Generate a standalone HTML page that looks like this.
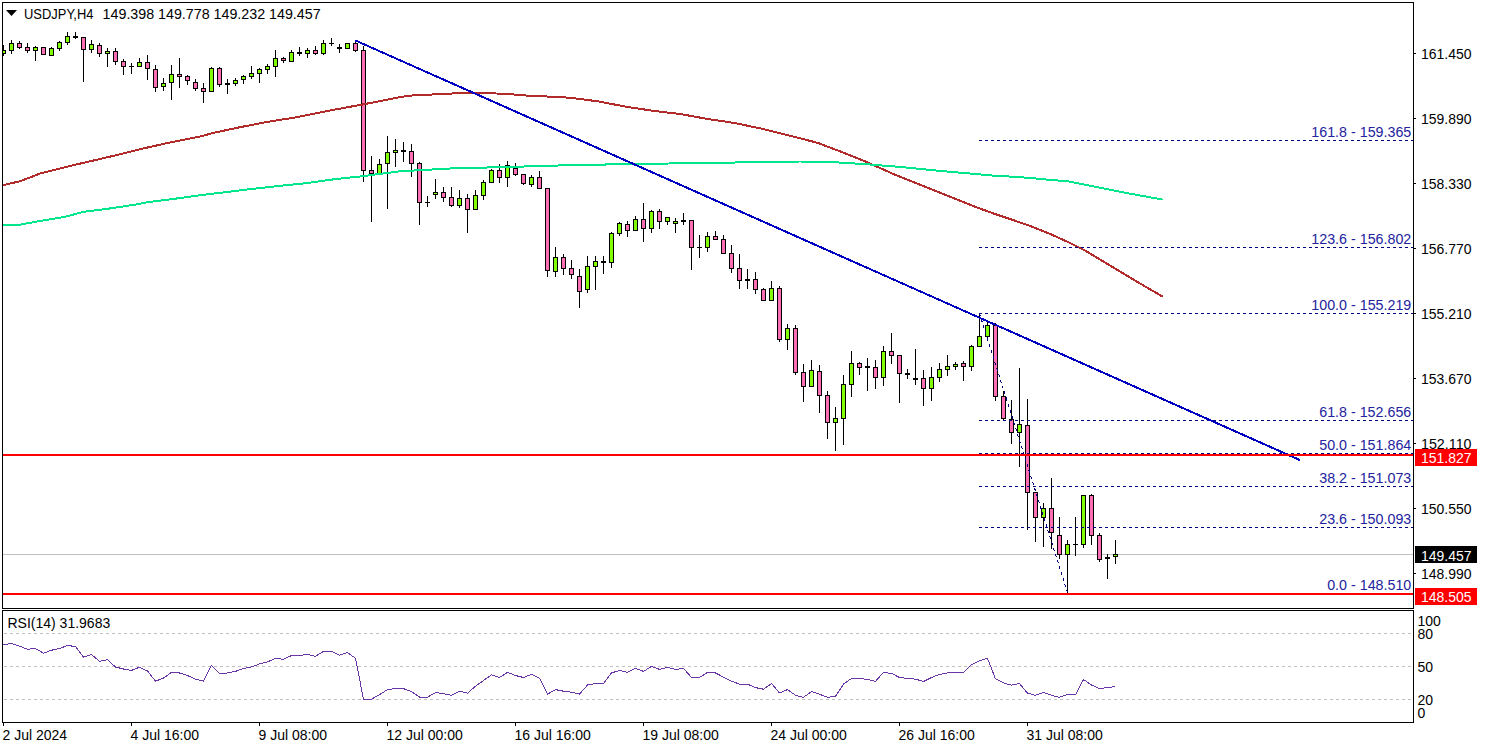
<!DOCTYPE html>
<html><head><meta charset="utf-8"><style>
html,body{margin:0;padding:0;background:#fff;overflow:hidden;}
svg{display:block;}
</style></head><body>
<svg width="1485" height="749" viewBox="0 0 1485 749">
<defs><clipPath id="chartclip"><rect x="3" y="3" width="1410" height="605"/></clipPath><clipPath id="rsiclip"><rect x="3" y="611" width="1410" height="111"/></clipPath></defs>
<rect width="1485" height="749" fill="#fff"/>
<g shape-rendering="crispEdges" fill="#000">
<rect x="2" y="2" width="1412" height="1"/><rect x="2" y="608" width="1412" height="1"/>
<rect x="2" y="2" width="1" height="607"/><rect x="1413" y="2" width="1" height="607"/>
<rect x="2" y="610" width="1412" height="1"/><rect x="2" y="722" width="1412" height="1"/>
<rect x="2" y="610" width="1" height="113"/><rect x="1413" y="610" width="1" height="113"/>
</g>
<g shape-rendering="crispEdges" fill="#000">
<rect x="1414" y="53" width="2" height="1"/>
<rect x="1414" y="118" width="2" height="1"/>
<rect x="1414" y="183" width="2" height="1"/>
<rect x="1414" y="248" width="2" height="1"/>
<rect x="1414" y="313" width="2" height="1"/>
<rect x="1414" y="378" width="2" height="1"/>
<rect x="1414" y="443" width="2" height="1"/>
<rect x="1414" y="508" width="2" height="1"/>
<rect x="1414" y="573" width="2" height="1"/>
</g>
<g font-family="Liberation Sans, sans-serif" font-size="14" fill="#000">
<text x="1421" y="58.5" textLength="50.5" lengthAdjust="spacingAndGlyphs">161.450</text>
<text x="1421" y="123.5" textLength="50.5" lengthAdjust="spacingAndGlyphs">159.890</text>
<text x="1421" y="188.5" textLength="50.5" lengthAdjust="spacingAndGlyphs">158.330</text>
<text x="1421" y="253.5" textLength="50.5" lengthAdjust="spacingAndGlyphs">156.770</text>
<text x="1421" y="318.5" textLength="50.5" lengthAdjust="spacingAndGlyphs">155.210</text>
<text x="1421" y="383.5" textLength="50.5" lengthAdjust="spacingAndGlyphs">153.670</text>
<text x="1421" y="448.5" textLength="50.5" lengthAdjust="spacingAndGlyphs">152.110</text>
<text x="1421" y="513.5" textLength="50.5" lengthAdjust="spacingAndGlyphs">150.550</text>
<text x="1421" y="578.5" textLength="50.5" lengthAdjust="spacingAndGlyphs">148.990</text>
</g>
<g font-family="Liberation Sans, sans-serif" font-size="14" fill="#000">
<text x="1417.5" y="626">100</text>
<text x="1417.5" y="639">80</text>
<text x="1417.5" y="672">50</text>
<text x="1417.5" y="705">20</text>
<text x="1417.5" y="718">0</text>
</g>
<g shape-rendering="crispEdges" fill="#000">
<rect x="3" y="723" width="1" height="3"/>
<rect x="131" y="723" width="1" height="3"/>
<rect x="259" y="723" width="1" height="3"/>
<rect x="387" y="723" width="1" height="3"/>
<rect x="515" y="723" width="1" height="3"/>
<rect x="643" y="723" width="1" height="3"/>
<rect x="771" y="723" width="1" height="3"/>
<rect x="899" y="723" width="1" height="3"/>
<rect x="1027" y="723" width="1" height="3"/>
</g>
<g font-family="Liberation Sans, sans-serif" font-size="14" fill="#000">
<text x="2.5" y="740">2 Jul 2024</text>
<text x="130.5" y="740">4 Jul 16:00</text>
<text x="258.5" y="740">9 Jul 08:00</text>
<text x="386.5" y="740">12 Jul 00:00</text>
<text x="514.5" y="740">16 Jul 16:00</text>
<text x="642.5" y="740">19 Jul 08:00</text>
<text x="770.5" y="740">24 Jul 00:00</text>
<text x="898.5" y="740">26 Jul 16:00</text>
<text x="1026.5" y="740">31 Jul 08:00</text>
</g>
<g shape-rendering="crispEdges" stroke="#C0C0C0" stroke-width="1" stroke-dasharray="3,3">
<line x1="4" y1="633.5" x2="1412" y2="633.5"/>
<line x1="4" y1="666.5" x2="1412" y2="666.5"/>
<line x1="4" y1="699.5" x2="1412" y2="699.5"/>
</g>
<rect x="3" y="554" width="1410" height="1" fill="#C0C0C0" shape-rendering="crispEdges"/>
<g shape-rendering="crispEdges" clip-path="url(#chartclip)">
<rect x="3" y="45" width="1" height="11" fill="#000"/>
<rect x="1" y="50" width="5" height="4" fill="#000"/>
<rect x="2" y="51" width="3" height="2" fill="#7FFF00"/>
<rect x="11" y="40" width="1" height="14" fill="#000"/>
<rect x="9" y="43" width="5" height="8" fill="#000"/>
<rect x="10" y="44" width="3" height="6" fill="#7FFF00"/>
<rect x="19" y="41" width="1" height="8" fill="#000"/>
<rect x="17" y="43" width="5" height="5" fill="#000"/>
<rect x="18" y="44" width="3" height="3" fill="#FF6EB4"/>
<rect x="27" y="43" width="1" height="10" fill="#000"/>
<rect x="25" y="47" width="5" height="4" fill="#000"/>
<rect x="26" y="48" width="3" height="2" fill="#FF6EB4"/>
<rect x="35" y="46" width="1" height="15" fill="#000"/>
<rect x="33" y="47" width="5" height="4" fill="#000"/>
<rect x="34" y="48" width="3" height="2" fill="#7FFF00"/>
<rect x="43" y="47" width="1" height="8" fill="#000"/>
<rect x="41" y="47" width="5" height="8" fill="#000"/>
<rect x="42" y="48" width="3" height="6" fill="#FF6EB4"/>
<rect x="51" y="47" width="1" height="9" fill="#000"/>
<rect x="49" y="48" width="5" height="8" fill="#000"/>
<rect x="50" y="49" width="3" height="6" fill="#7FFF00"/>
<rect x="59" y="41" width="1" height="10" fill="#000"/>
<rect x="57" y="42" width="5" height="7" fill="#000"/>
<rect x="58" y="43" width="3" height="5" fill="#7FFF00"/>
<rect x="67" y="32" width="1" height="13" fill="#000"/>
<rect x="65" y="36" width="5" height="7" fill="#000"/>
<rect x="66" y="37" width="3" height="5" fill="#7FFF00"/>
<rect x="75" y="32" width="1" height="7" fill="#000"/>
<rect x="73" y="36" width="5" height="2" fill="#000"/>
<rect x="83" y="37" width="1" height="45" fill="#000"/>
<rect x="81" y="37" width="5" height="13" fill="#000"/>
<rect x="82" y="38" width="3" height="11" fill="#FF6EB4"/>
<rect x="91" y="40" width="1" height="13" fill="#000"/>
<rect x="89" y="44" width="5" height="6" fill="#000"/>
<rect x="90" y="45" width="3" height="4" fill="#7FFF00"/>
<rect x="99" y="43" width="1" height="14" fill="#000"/>
<rect x="97" y="45" width="5" height="9" fill="#000"/>
<rect x="98" y="46" width="3" height="7" fill="#FF6EB4"/>
<rect x="107" y="48" width="1" height="19" fill="#000"/>
<rect x="105" y="51" width="5" height="3" fill="#000"/>
<rect x="106" y="52" width="3" height="1" fill="#7FFF00"/>
<rect x="115" y="48" width="1" height="17" fill="#000"/>
<rect x="113" y="51" width="5" height="11" fill="#000"/>
<rect x="114" y="52" width="3" height="9" fill="#FF6EB4"/>
<rect x="123" y="59" width="1" height="16" fill="#000"/>
<rect x="121" y="61" width="5" height="6" fill="#000"/>
<rect x="122" y="62" width="3" height="4" fill="#FF6EB4"/>
<rect x="131" y="63" width="1" height="11" fill="#000"/>
<rect x="129" y="66" width="5" height="1" fill="#000"/>
<rect x="139" y="58" width="1" height="9" fill="#000"/>
<rect x="137" y="62" width="5" height="5" fill="#000"/>
<rect x="138" y="63" width="3" height="3" fill="#7FFF00"/>
<rect x="147" y="55" width="1" height="25" fill="#000"/>
<rect x="145" y="62" width="5" height="7" fill="#000"/>
<rect x="146" y="63" width="3" height="5" fill="#FF6EB4"/>
<rect x="155" y="65" width="1" height="27" fill="#000"/>
<rect x="153" y="69" width="5" height="19" fill="#000"/>
<rect x="154" y="70" width="3" height="17" fill="#FF6EB4"/>
<rect x="163" y="78" width="1" height="13" fill="#000"/>
<rect x="161" y="83" width="5" height="4" fill="#000"/>
<rect x="162" y="84" width="3" height="2" fill="#7FFF00"/>
<rect x="171" y="65" width="1" height="35" fill="#000"/>
<rect x="169" y="74" width="5" height="9" fill="#000"/>
<rect x="170" y="75" width="3" height="7" fill="#7FFF00"/>
<rect x="179" y="58" width="1" height="30" fill="#000"/>
<rect x="177" y="74" width="5" height="3" fill="#000"/>
<rect x="178" y="75" width="3" height="1" fill="#FF6EB4"/>
<rect x="187" y="75" width="1" height="10" fill="#000"/>
<rect x="185" y="76" width="5" height="5" fill="#000"/>
<rect x="186" y="77" width="3" height="3" fill="#FF6EB4"/>
<rect x="195" y="79" width="1" height="12" fill="#000"/>
<rect x="193" y="82" width="5" height="7" fill="#000"/>
<rect x="194" y="83" width="3" height="5" fill="#FF6EB4"/>
<rect x="203" y="83" width="1" height="20" fill="#000"/>
<rect x="201" y="88" width="5" height="4" fill="#000"/>
<rect x="202" y="89" width="3" height="2" fill="#FF6EB4"/>
<rect x="211" y="67" width="1" height="25" fill="#000"/>
<rect x="209" y="68" width="5" height="24" fill="#000"/>
<rect x="210" y="69" width="3" height="22" fill="#7FFF00"/>
<rect x="219" y="67" width="1" height="20" fill="#000"/>
<rect x="217" y="68" width="5" height="17" fill="#000"/>
<rect x="218" y="69" width="3" height="15" fill="#FF6EB4"/>
<rect x="227" y="79" width="1" height="15" fill="#000"/>
<rect x="225" y="83" width="5" height="2" fill="#000"/>
<rect x="235" y="78" width="1" height="8" fill="#000"/>
<rect x="233" y="80" width="5" height="4" fill="#000"/>
<rect x="234" y="81" width="3" height="2" fill="#7FFF00"/>
<rect x="243" y="75" width="1" height="9" fill="#000"/>
<rect x="241" y="76" width="5" height="4" fill="#000"/>
<rect x="242" y="77" width="3" height="2" fill="#7FFF00"/>
<rect x="251" y="66" width="1" height="13" fill="#000"/>
<rect x="249" y="73" width="5" height="4" fill="#000"/>
<rect x="250" y="74" width="3" height="2" fill="#7FFF00"/>
<rect x="259" y="68" width="1" height="15" fill="#000"/>
<rect x="257" y="69" width="5" height="5" fill="#000"/>
<rect x="258" y="70" width="3" height="3" fill="#7FFF00"/>
<rect x="267" y="64" width="1" height="10" fill="#000"/>
<rect x="265" y="66" width="5" height="4" fill="#000"/>
<rect x="266" y="67" width="3" height="2" fill="#7FFF00"/>
<rect x="275" y="50" width="1" height="27" fill="#000"/>
<rect x="273" y="58" width="5" height="9" fill="#000"/>
<rect x="274" y="59" width="3" height="7" fill="#7FFF00"/>
<rect x="283" y="57" width="1" height="6" fill="#000"/>
<rect x="281" y="58" width="5" height="3" fill="#000"/>
<rect x="282" y="59" width="3" height="1" fill="#FF6EB4"/>
<rect x="291" y="50" width="1" height="12" fill="#000"/>
<rect x="289" y="52" width="5" height="10" fill="#000"/>
<rect x="290" y="53" width="3" height="8" fill="#7FFF00"/>
<rect x="299" y="47" width="1" height="9" fill="#000"/>
<rect x="297" y="52" width="5" height="2" fill="#000"/>
<rect x="307" y="48" width="1" height="10" fill="#000"/>
<rect x="305" y="50" width="5" height="4" fill="#000"/>
<rect x="306" y="51" width="3" height="2" fill="#7FFF00"/>
<rect x="315" y="46" width="1" height="9" fill="#000"/>
<rect x="313" y="50" width="5" height="4" fill="#000"/>
<rect x="314" y="51" width="3" height="2" fill="#FF6EB4"/>
<rect x="323" y="40" width="1" height="15" fill="#000"/>
<rect x="321" y="43" width="5" height="11" fill="#000"/>
<rect x="322" y="44" width="3" height="9" fill="#7FFF00"/>
<rect x="331" y="38" width="1" height="8" fill="#000"/>
<rect x="329" y="43" width="5" height="1" fill="#000"/>
<rect x="339" y="44" width="1" height="9" fill="#000"/>
<rect x="337" y="47" width="5" height="2" fill="#000"/>
<rect x="347" y="43" width="1" height="6" fill="#000"/>
<rect x="345" y="43" width="5" height="6" fill="#000"/>
<rect x="346" y="44" width="3" height="4" fill="#7FFF00"/>
<rect x="355" y="40" width="1" height="12" fill="#000"/>
<rect x="353" y="43" width="5" height="8" fill="#000"/>
<rect x="354" y="44" width="3" height="6" fill="#FF6EB4"/>
<rect x="363" y="46" width="1" height="136" fill="#000"/>
<rect x="361" y="50" width="5" height="121" fill="#000"/>
<rect x="362" y="51" width="3" height="119" fill="#FF6EB4"/>
<rect x="371" y="156" width="1" height="66" fill="#000"/>
<rect x="369" y="170" width="5" height="4" fill="#000"/>
<rect x="370" y="171" width="3" height="2" fill="#FF6EB4"/>
<rect x="379" y="159" width="1" height="15" fill="#000"/>
<rect x="377" y="164" width="5" height="10" fill="#000"/>
<rect x="378" y="165" width="3" height="8" fill="#7FFF00"/>
<rect x="387" y="136" width="1" height="73" fill="#000"/>
<rect x="385" y="152" width="5" height="12" fill="#000"/>
<rect x="386" y="153" width="3" height="10" fill="#7FFF00"/>
<rect x="395" y="139" width="1" height="28" fill="#000"/>
<rect x="393" y="150" width="5" height="3" fill="#000"/>
<rect x="394" y="151" width="3" height="1" fill="#7FFF00"/>
<rect x="403" y="142" width="1" height="20" fill="#000"/>
<rect x="401" y="150" width="5" height="2" fill="#000"/>
<rect x="411" y="144" width="1" height="33" fill="#000"/>
<rect x="409" y="151" width="5" height="13" fill="#000"/>
<rect x="410" y="152" width="3" height="11" fill="#FF6EB4"/>
<rect x="419" y="162" width="1" height="63" fill="#000"/>
<rect x="417" y="163" width="5" height="40" fill="#000"/>
<rect x="418" y="164" width="3" height="38" fill="#FF6EB4"/>
<rect x="427" y="196" width="1" height="11" fill="#000"/>
<rect x="425" y="202" width="5" height="1" fill="#000"/>
<rect x="435" y="179" width="1" height="20" fill="#000"/>
<rect x="433" y="192" width="5" height="3" fill="#000"/>
<rect x="434" y="193" width="3" height="1" fill="#7FFF00"/>
<rect x="443" y="187" width="1" height="15" fill="#000"/>
<rect x="441" y="192" width="5" height="6" fill="#000"/>
<rect x="442" y="193" width="3" height="4" fill="#FF6EB4"/>
<rect x="451" y="187" width="1" height="20" fill="#000"/>
<rect x="449" y="197" width="5" height="9" fill="#000"/>
<rect x="450" y="198" width="3" height="7" fill="#FF6EB4"/>
<rect x="459" y="190" width="1" height="18" fill="#000"/>
<rect x="457" y="198" width="5" height="8" fill="#000"/>
<rect x="458" y="199" width="3" height="6" fill="#7FFF00"/>
<rect x="467" y="194" width="1" height="39" fill="#000"/>
<rect x="465" y="198" width="5" height="12" fill="#000"/>
<rect x="466" y="199" width="3" height="10" fill="#FF6EB4"/>
<rect x="475" y="190" width="1" height="20" fill="#000"/>
<rect x="473" y="195" width="5" height="15" fill="#000"/>
<rect x="474" y="196" width="3" height="13" fill="#7FFF00"/>
<rect x="483" y="180" width="1" height="20" fill="#000"/>
<rect x="481" y="182" width="5" height="14" fill="#000"/>
<rect x="482" y="183" width="3" height="12" fill="#7FFF00"/>
<rect x="491" y="169" width="1" height="14" fill="#000"/>
<rect x="489" y="170" width="5" height="13" fill="#000"/>
<rect x="490" y="171" width="3" height="11" fill="#7FFF00"/>
<rect x="499" y="164" width="1" height="19" fill="#000"/>
<rect x="497" y="170" width="5" height="8" fill="#000"/>
<rect x="498" y="171" width="3" height="6" fill="#FF6EB4"/>
<rect x="507" y="161" width="1" height="26" fill="#000"/>
<rect x="505" y="165" width="5" height="13" fill="#000"/>
<rect x="506" y="166" width="3" height="11" fill="#7FFF00"/>
<rect x="515" y="163" width="1" height="13" fill="#000"/>
<rect x="513" y="168" width="5" height="7" fill="#000"/>
<rect x="514" y="169" width="3" height="5" fill="#FF6EB4"/>
<rect x="523" y="174" width="1" height="11" fill="#000"/>
<rect x="521" y="174" width="5" height="10" fill="#000"/>
<rect x="522" y="175" width="3" height="8" fill="#FF6EB4"/>
<rect x="531" y="175" width="1" height="12" fill="#000"/>
<rect x="529" y="177" width="5" height="8" fill="#000"/>
<rect x="530" y="178" width="3" height="6" fill="#7FFF00"/>
<rect x="539" y="171" width="1" height="18" fill="#000"/>
<rect x="537" y="177" width="5" height="12" fill="#000"/>
<rect x="538" y="178" width="3" height="10" fill="#FF6EB4"/>
<rect x="547" y="188" width="1" height="89" fill="#000"/>
<rect x="545" y="188" width="5" height="83" fill="#000"/>
<rect x="546" y="189" width="3" height="81" fill="#FF6EB4"/>
<rect x="555" y="247" width="1" height="30" fill="#000"/>
<rect x="553" y="257" width="5" height="15" fill="#000"/>
<rect x="554" y="258" width="3" height="13" fill="#7FFF00"/>
<rect x="563" y="254" width="1" height="21" fill="#000"/>
<rect x="561" y="257" width="5" height="12" fill="#000"/>
<rect x="562" y="258" width="3" height="10" fill="#FF6EB4"/>
<rect x="571" y="260" width="1" height="19" fill="#000"/>
<rect x="569" y="268" width="5" height="7" fill="#000"/>
<rect x="570" y="269" width="3" height="5" fill="#FF6EB4"/>
<rect x="579" y="269" width="1" height="39" fill="#000"/>
<rect x="577" y="276" width="5" height="16" fill="#000"/>
<rect x="578" y="277" width="3" height="14" fill="#FF6EB4"/>
<rect x="587" y="256" width="1" height="37" fill="#000"/>
<rect x="585" y="266" width="5" height="24" fill="#000"/>
<rect x="586" y="267" width="3" height="22" fill="#7FFF00"/>
<rect x="595" y="256" width="1" height="34" fill="#000"/>
<rect x="593" y="261" width="5" height="6" fill="#000"/>
<rect x="594" y="262" width="3" height="4" fill="#7FFF00"/>
<rect x="603" y="256" width="1" height="18" fill="#000"/>
<rect x="601" y="261" width="5" height="2" fill="#000"/>
<rect x="611" y="232" width="1" height="36" fill="#000"/>
<rect x="609" y="233" width="5" height="30" fill="#000"/>
<rect x="610" y="234" width="3" height="28" fill="#7FFF00"/>
<rect x="619" y="222" width="1" height="14" fill="#000"/>
<rect x="617" y="223" width="5" height="11" fill="#000"/>
<rect x="618" y="224" width="3" height="9" fill="#7FFF00"/>
<rect x="627" y="221" width="1" height="16" fill="#000"/>
<rect x="625" y="224" width="5" height="7" fill="#000"/>
<rect x="626" y="225" width="3" height="5" fill="#FF6EB4"/>
<rect x="635" y="216" width="1" height="15" fill="#000"/>
<rect x="633" y="219" width="5" height="12" fill="#000"/>
<rect x="634" y="220" width="3" height="10" fill="#7FFF00"/>
<rect x="643" y="203" width="1" height="39" fill="#000"/>
<rect x="641" y="219" width="5" height="10" fill="#000"/>
<rect x="642" y="220" width="3" height="8" fill="#FF6EB4"/>
<rect x="651" y="210" width="1" height="23" fill="#000"/>
<rect x="649" y="211" width="5" height="18" fill="#000"/>
<rect x="650" y="212" width="3" height="16" fill="#7FFF00"/>
<rect x="659" y="209" width="1" height="20" fill="#000"/>
<rect x="657" y="211" width="5" height="11" fill="#000"/>
<rect x="658" y="212" width="3" height="9" fill="#FF6EB4"/>
<rect x="667" y="217" width="1" height="8" fill="#000"/>
<rect x="665" y="217" width="5" height="5" fill="#000"/>
<rect x="666" y="218" width="3" height="3" fill="#7FFF00"/>
<rect x="675" y="218" width="1" height="15" fill="#000"/>
<rect x="673" y="221" width="5" height="3" fill="#000"/>
<rect x="674" y="222" width="3" height="1" fill="#7FFF00"/>
<rect x="683" y="213" width="1" height="12" fill="#000"/>
<rect x="681" y="220" width="5" height="2" fill="#000"/>
<rect x="691" y="220" width="1" height="50" fill="#000"/>
<rect x="689" y="220" width="5" height="28" fill="#000"/>
<rect x="690" y="221" width="3" height="26" fill="#FF6EB4"/>
<rect x="699" y="235" width="1" height="23" fill="#000"/>
<rect x="697" y="247" width="5" height="1" fill="#000"/>
<rect x="707" y="232" width="1" height="20" fill="#000"/>
<rect x="705" y="236" width="5" height="12" fill="#000"/>
<rect x="706" y="237" width="3" height="10" fill="#7FFF00"/>
<rect x="715" y="231" width="1" height="9" fill="#000"/>
<rect x="713" y="236" width="5" height="4" fill="#000"/>
<rect x="714" y="237" width="3" height="2" fill="#FF6EB4"/>
<rect x="723" y="235" width="1" height="19" fill="#000"/>
<rect x="721" y="239" width="5" height="15" fill="#000"/>
<rect x="722" y="240" width="3" height="13" fill="#FF6EB4"/>
<rect x="731" y="245" width="1" height="28" fill="#000"/>
<rect x="729" y="253" width="5" height="16" fill="#000"/>
<rect x="730" y="254" width="3" height="14" fill="#FF6EB4"/>
<rect x="739" y="254" width="1" height="35" fill="#000"/>
<rect x="737" y="268" width="5" height="13" fill="#000"/>
<rect x="738" y="269" width="3" height="11" fill="#FF6EB4"/>
<rect x="747" y="269" width="1" height="20" fill="#000"/>
<rect x="745" y="279" width="5" height="2" fill="#000"/>
<rect x="755" y="272" width="1" height="22" fill="#000"/>
<rect x="753" y="279" width="5" height="11" fill="#000"/>
<rect x="754" y="280" width="3" height="9" fill="#FF6EB4"/>
<rect x="763" y="288" width="1" height="13" fill="#000"/>
<rect x="761" y="289" width="5" height="12" fill="#000"/>
<rect x="762" y="290" width="3" height="10" fill="#FF6EB4"/>
<rect x="771" y="281" width="1" height="20" fill="#000"/>
<rect x="769" y="288" width="5" height="13" fill="#000"/>
<rect x="770" y="289" width="3" height="11" fill="#7FFF00"/>
<rect x="779" y="286" width="1" height="56" fill="#000"/>
<rect x="777" y="288" width="5" height="52" fill="#000"/>
<rect x="778" y="289" width="3" height="50" fill="#FF6EB4"/>
<rect x="787" y="324" width="1" height="26" fill="#000"/>
<rect x="785" y="328" width="5" height="12" fill="#000"/>
<rect x="786" y="329" width="3" height="10" fill="#7FFF00"/>
<rect x="795" y="325" width="1" height="50" fill="#000"/>
<rect x="793" y="328" width="5" height="45" fill="#000"/>
<rect x="794" y="329" width="3" height="43" fill="#FF6EB4"/>
<rect x="803" y="364" width="1" height="38" fill="#000"/>
<rect x="801" y="372" width="5" height="15" fill="#000"/>
<rect x="802" y="373" width="3" height="13" fill="#FF6EB4"/>
<rect x="811" y="360" width="1" height="27" fill="#000"/>
<rect x="809" y="370" width="5" height="17" fill="#000"/>
<rect x="810" y="371" width="3" height="15" fill="#7FFF00"/>
<rect x="819" y="365" width="1" height="48" fill="#000"/>
<rect x="817" y="371" width="5" height="25" fill="#000"/>
<rect x="818" y="372" width="3" height="23" fill="#FF6EB4"/>
<rect x="827" y="391" width="1" height="48" fill="#000"/>
<rect x="825" y="395" width="5" height="28" fill="#000"/>
<rect x="826" y="396" width="3" height="26" fill="#FF6EB4"/>
<rect x="835" y="407" width="1" height="44" fill="#000"/>
<rect x="833" y="418" width="5" height="5" fill="#000"/>
<rect x="834" y="419" width="3" height="3" fill="#7FFF00"/>
<rect x="843" y="375" width="1" height="70" fill="#000"/>
<rect x="841" y="384" width="5" height="35" fill="#000"/>
<rect x="842" y="385" width="3" height="33" fill="#7FFF00"/>
<rect x="851" y="351" width="1" height="46" fill="#000"/>
<rect x="849" y="363" width="5" height="22" fill="#000"/>
<rect x="850" y="364" width="3" height="20" fill="#7FFF00"/>
<rect x="859" y="362" width="1" height="13" fill="#000"/>
<rect x="857" y="363" width="5" height="5" fill="#000"/>
<rect x="858" y="364" width="3" height="3" fill="#FF6EB4"/>
<rect x="867" y="358" width="1" height="33" fill="#000"/>
<rect x="865" y="366" width="5" height="2" fill="#000"/>
<rect x="875" y="360" width="1" height="29" fill="#000"/>
<rect x="873" y="367" width="5" height="11" fill="#000"/>
<rect x="874" y="368" width="3" height="9" fill="#FF6EB4"/>
<rect x="883" y="346" width="1" height="40" fill="#000"/>
<rect x="881" y="351" width="5" height="27" fill="#000"/>
<rect x="882" y="352" width="3" height="25" fill="#7FFF00"/>
<rect x="891" y="333" width="1" height="31" fill="#000"/>
<rect x="889" y="351" width="5" height="5" fill="#000"/>
<rect x="890" y="352" width="3" height="3" fill="#FF6EB4"/>
<rect x="899" y="355" width="1" height="48" fill="#000"/>
<rect x="897" y="355" width="5" height="19" fill="#000"/>
<rect x="898" y="356" width="3" height="17" fill="#FF6EB4"/>
<rect x="907" y="369" width="1" height="10" fill="#000"/>
<rect x="905" y="373" width="5" height="2" fill="#000"/>
<rect x="915" y="349" width="1" height="36" fill="#000"/>
<rect x="913" y="378" width="5" height="2" fill="#000"/>
<rect x="923" y="370" width="1" height="36" fill="#000"/>
<rect x="921" y="378" width="5" height="11" fill="#000"/>
<rect x="922" y="379" width="3" height="9" fill="#FF6EB4"/>
<rect x="931" y="367" width="1" height="34" fill="#000"/>
<rect x="929" y="377" width="5" height="12" fill="#000"/>
<rect x="930" y="378" width="3" height="10" fill="#7FFF00"/>
<rect x="939" y="363" width="1" height="19" fill="#000"/>
<rect x="937" y="369" width="5" height="9" fill="#000"/>
<rect x="938" y="370" width="3" height="7" fill="#7FFF00"/>
<rect x="947" y="355" width="1" height="21" fill="#000"/>
<rect x="945" y="366" width="5" height="4" fill="#000"/>
<rect x="946" y="367" width="3" height="2" fill="#7FFF00"/>
<rect x="955" y="362" width="1" height="8" fill="#000"/>
<rect x="953" y="364" width="5" height="3" fill="#000"/>
<rect x="954" y="365" width="3" height="1" fill="#7FFF00"/>
<rect x="963" y="361" width="1" height="20" fill="#000"/>
<rect x="961" y="363" width="5" height="4" fill="#000"/>
<rect x="962" y="364" width="3" height="2" fill="#FF6EB4"/>
<rect x="971" y="345" width="1" height="26" fill="#000"/>
<rect x="969" y="346" width="5" height="21" fill="#000"/>
<rect x="970" y="347" width="3" height="19" fill="#7FFF00"/>
<rect x="979" y="313" width="1" height="34" fill="#000"/>
<rect x="977" y="336" width="5" height="11" fill="#000"/>
<rect x="978" y="337" width="3" height="9" fill="#7FFF00"/>
<rect x="987" y="321" width="1" height="18" fill="#000"/>
<rect x="985" y="325" width="5" height="12" fill="#000"/>
<rect x="986" y="326" width="3" height="10" fill="#7FFF00"/>
<rect x="995" y="323" width="1" height="78" fill="#000"/>
<rect x="993" y="325" width="5" height="72" fill="#000"/>
<rect x="994" y="326" width="3" height="70" fill="#FF6EB4"/>
<rect x="1003" y="391" width="1" height="30" fill="#000"/>
<rect x="1001" y="396" width="5" height="23" fill="#000"/>
<rect x="1002" y="397" width="3" height="21" fill="#FF6EB4"/>
<rect x="1011" y="400" width="1" height="44" fill="#000"/>
<rect x="1009" y="419" width="5" height="14" fill="#000"/>
<rect x="1010" y="420" width="3" height="12" fill="#FF6EB4"/>
<rect x="1019" y="368" width="1" height="99" fill="#000"/>
<rect x="1017" y="424" width="5" height="9" fill="#000"/>
<rect x="1018" y="425" width="3" height="7" fill="#7FFF00"/>
<rect x="1027" y="399" width="1" height="131" fill="#000"/>
<rect x="1025" y="425" width="5" height="68" fill="#000"/>
<rect x="1026" y="426" width="3" height="66" fill="#FF6EB4"/>
<rect x="1035" y="492" width="1" height="50" fill="#000"/>
<rect x="1033" y="492" width="5" height="26" fill="#000"/>
<rect x="1034" y="493" width="3" height="24" fill="#FF6EB4"/>
<rect x="1043" y="503" width="1" height="44" fill="#000"/>
<rect x="1041" y="508" width="5" height="10" fill="#000"/>
<rect x="1042" y="509" width="3" height="8" fill="#7FFF00"/>
<rect x="1051" y="478" width="1" height="71" fill="#000"/>
<rect x="1049" y="508" width="5" height="25" fill="#000"/>
<rect x="1050" y="509" width="3" height="23" fill="#FF6EB4"/>
<rect x="1059" y="517" width="1" height="42" fill="#000"/>
<rect x="1057" y="535" width="5" height="20" fill="#000"/>
<rect x="1058" y="536" width="3" height="18" fill="#FF6EB4"/>
<rect x="1067" y="540" width="1" height="53" fill="#000"/>
<rect x="1065" y="544" width="5" height="11" fill="#000"/>
<rect x="1066" y="545" width="3" height="9" fill="#7FFF00"/>
<rect x="1075" y="517" width="1" height="39" fill="#000"/>
<rect x="1073" y="544" width="5" height="1" fill="#000"/>
<rect x="1083" y="495" width="1" height="53" fill="#000"/>
<rect x="1081" y="495" width="5" height="50" fill="#000"/>
<rect x="1082" y="496" width="3" height="48" fill="#7FFF00"/>
<rect x="1091" y="494" width="1" height="51" fill="#000"/>
<rect x="1089" y="495" width="5" height="41" fill="#000"/>
<rect x="1090" y="496" width="3" height="39" fill="#FF6EB4"/>
<rect x="1099" y="533" width="1" height="29" fill="#000"/>
<rect x="1097" y="535" width="5" height="25" fill="#000"/>
<rect x="1098" y="536" width="3" height="23" fill="#FF6EB4"/>
<rect x="1107" y="554" width="1" height="25" fill="#000"/>
<rect x="1105" y="557" width="5" height="2" fill="#000"/>
<rect x="1115" y="540" width="1" height="24" fill="#000"/>
<rect x="1113" y="554" width="5" height="3" fill="#000"/>
<rect x="1114" y="555" width="3" height="1" fill="#7FFF00"/>
</g>
<g clip-path="url(#chartclip)">
<polyline points="2.7,185.2 20.2,181.2 40.4,173.4 67.3,166.6 94.3,160.3 121.2,154.0 141.4,148.9 168.4,142.8 200.0,136.6 213.5,132.9 240.4,127.1 267.3,121.9 294.3,117.6 321.2,112.2 348.1,107.1 361.6,104.7 400.0,97.1 412.0,95.5 432.0,94.5 452.0,93.5 480.0,92.8 508.0,94.0 531.0,95.9 555.0,96.8 571.0,97.8 590.0,100.3 600.0,101.7 626.9,106.9 653.9,110.9 680.8,114.1 707.7,119.0 734.7,123.0 761.6,128.7 800.0,138.3 817.5,142.8 840.4,151.5 867.3,162.3 894.3,174.4 921.2,185.2 948.1,196.0 975.1,206.8 995.0,214.0 1013.0,220.0 1031.0,226.3 1049.1,233.5 1067.1,241.6 1085.1,250.6 1103.1,261.4 1121.1,272.2 1139.2,283.0 1162.6,296.6" fill="none" stroke="#B22A2A" stroke-width="2" stroke-linejoin="round" shape-rendering="crispEdges"/>
<polyline points="2.7,224.9 18.9,224.9 40.4,220.9 64.6,216.9 83.5,211.8 107.7,208.8 134.7,204.7 148.1,202.1 175.1,198.7 200.0,195.2 226.9,192.0 253.9,188.7 280.8,185.7 307.7,183.0 334.7,179.2 361.6,176.3 400.0,171.3 453.9,168.3 507.7,167.0 561.6,165.4 615.5,164.3 669.4,163.5 723.2,162.7 800.0,161.5 833.7,162.2 867.3,164.3 901.0,167.0 934.7,170.4 968.4,173.4 995.0,175.8 1013.0,176.7 1031.0,178.0 1049.1,179.8 1067.1,181.2 1085.1,184.8 1103.1,188.4 1121.1,192.0 1139.2,195.3 1162.6,199.6" fill="none" stroke="#00E68C" stroke-width="2" stroke-linejoin="round" shape-rendering="crispEdges"/>
</g>
<g shape-rendering="crispEdges" stroke="#000080" stroke-width="1" stroke-dasharray="3,3">
<line x1="979" y1="140.5" x2="1413" y2="140.5"/>
<line x1="979" y1="247.5" x2="1413" y2="247.5"/>
<line x1="979" y1="313.5" x2="1413" y2="313.5"/>
<line x1="979" y1="420.5" x2="1413" y2="420.5"/>
<line x1="979" y1="453.5" x2="1413" y2="453.5"/>
<line x1="979" y1="486.5" x2="1413" y2="486.5"/>
<line x1="979" y1="527.5" x2="1413" y2="527.5"/>
<line x1="979" y1="593.5" x2="1413" y2="593.5"/>
</g>
<line x1="979.5" y1="313.5" x2="1067.5" y2="592.5" stroke="#000080" stroke-width="1" stroke-dasharray="3.15,3.15" shape-rendering="crispEdges"/>
<g font-family="Liberation Sans, sans-serif" font-size="14" fill="#23239E">
<text x="1311.3" y="137" textLength="100.0" lengthAdjust="spacingAndGlyphs">161.8 - 159.365</text>
<text x="1311.3" y="244" textLength="100.0" lengthAdjust="spacingAndGlyphs">123.6 - 156.802</text>
<text x="1311.3" y="310" textLength="100.0" lengthAdjust="spacingAndGlyphs">100.0 - 155.219</text>
<text x="1319.2" y="417" textLength="92.1" lengthAdjust="spacingAndGlyphs">61.8 - 152.656</text>
<text x="1319.2" y="450" textLength="92.1" lengthAdjust="spacingAndGlyphs">50.0 - 151.864</text>
<text x="1319.2" y="483" textLength="92.1" lengthAdjust="spacingAndGlyphs">38.2 - 151.073</text>
<text x="1319.2" y="524" textLength="92.1" lengthAdjust="spacingAndGlyphs">23.6 - 150.093</text>
<text x="1327.2" y="590" textLength="84.1" lengthAdjust="spacingAndGlyphs">0.0 - 148.510</text>
</g>
<line x1="355.5" y1="40.5" x2="1300" y2="460.1" stroke="#0000C0" stroke-width="2" shape-rendering="crispEdges"/>
<g shape-rendering="crispEdges" fill="#FF0000">
<rect x="3" y="454" width="1410" height="2"/>
<rect x="3" y="593" width="1410" height="2"/>
</g>
<g shape-rendering="crispEdges">
<rect x="1415" y="449" width="62" height="17" fill="#FF0000"/>
<rect x="1415" y="546" width="62" height="17" fill="#000"/>
<rect x="1415" y="588" width="62" height="17" fill="#FF0000"/>
</g>
<g font-family="Liberation Sans, sans-serif" font-size="14" fill="#FFF">
<text x="1421" y="463" textLength="50.5" lengthAdjust="spacingAndGlyphs">151.827</text>
<text x="1421" y="560.5" textLength="50.5" lengthAdjust="spacingAndGlyphs">149.457</text>
<text x="1421" y="602" textLength="50.5" lengthAdjust="spacingAndGlyphs">148.505</text>
</g>
<g clip-path="url(#rsiclip)">
<polyline points="3.5,644.7 11.5,643.5 19.5,646.2 27.5,649.2 35.5,648.6 43.5,653.2 51.5,650.2 59.5,648.6 67.5,645.4 75.5,646.6 83.5,657.3 91.5,654.6 99.5,661.3 107.5,659.7 115.5,667.0 123.5,669.0 131.5,670.4 139.5,667.2 147.5,671.0 155.5,681.1 163.5,678.1 171.5,672.4 179.5,673.0 187.5,675.5 195.5,679.1 203.5,681.1 211.5,665.4 219.5,673.4 227.5,673.0 235.5,671.4 243.5,668.4 251.5,667.0 259.5,663.9 267.5,661.9 275.5,658.3 283.5,659.3 291.5,655.5 299.5,655.5 307.5,654.4 315.5,656.3 323.5,651.4 331.5,651.2 339.5,655.3 347.5,652.6 355.5,658.3 363.5,699.3 371.5,699.1 379.5,694.6 387.5,689.6 395.5,688.6 403.5,688.6 411.5,691.6 419.5,697.1 427.5,697.1 435.5,692.6 443.5,693.6 451.5,695.3 459.5,691.2 467.5,693.2 475.5,686.2 483.5,680.5 491.5,674.8 499.5,677.5 507.5,672.4 515.5,675.5 523.5,677.5 531.5,674.4 539.5,678.1 547.5,694.2 555.5,689.6 563.5,691.2 571.5,692.2 579.5,694.2 587.5,685.0 595.5,683.5 603.5,683.5 611.5,673.0 619.5,670.4 627.5,672.4 635.5,668.4 643.5,671.4 651.5,666.4 659.5,669.4 667.5,667.4 675.5,669.4 683.5,668.4 691.5,677.5 699.5,677.5 707.5,672.4 715.5,673.0 723.5,677.1 731.5,681.1 739.5,684.1 747.5,684.1 755.5,687.6 763.5,689.2 771.5,683.5 779.5,693.0 787.5,689.6 795.5,695.3 803.5,697.3 811.5,691.6 819.5,694.2 827.5,697.3 835.5,696.3 843.5,684.1 851.5,678.5 859.5,678.5 867.5,679.5 875.5,681.3 883.5,672.4 891.5,673.4 899.5,677.5 907.5,678.5 915.5,679.1 923.5,681.5 931.5,677.5 939.5,674.4 947.5,673.0 955.5,672.4 963.5,672.4 971.5,664.7 979.5,660.7 987.5,658.3 995.5,678.9 1003.5,682.9 1011.5,685.2 1019.5,683.5 1027.5,693.2 1035.5,695.3 1043.5,692.6 1051.5,695.3 1059.5,697.3 1067.5,694.6 1075.5,694.6 1083.5,679.5 1091.5,685.0 1099.5,688.6 1107.5,687.6 1115.5,686.6" fill="none" stroke="#6A36A6" stroke-width="1" stroke-linejoin="round" shape-rendering="crispEdges"/>
</g>
<path d="M6,10 L17,10 L11.5,16 Z" fill="#000"/>
<text font-family="Liberation Sans, sans-serif" font-size="14" x="24" y="18.7" fill="#000" textLength="69.5" lengthAdjust="spacingAndGlyphs">USDJPY,H4</text>
<text font-family="Liberation Sans, sans-serif" font-size="14" x="102.6" y="18.7" fill="#000" textLength="218" lengthAdjust="spacingAndGlyphs">149.398 149.778 149.232 149.457</text>
<text font-family="Liberation Sans, sans-serif" font-size="14" x="7.5" y="628" fill="#000">RSI(14) 31.9683</text>
</svg>
</body></html>
